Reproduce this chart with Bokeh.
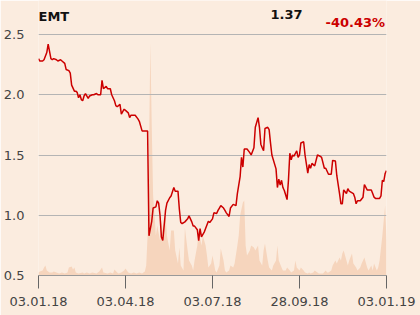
from bokeh.plotting import figure
from bokeh.models import Range1d, LinearAxis, FixedTicker, NumeralTickFormatter, Label
from bokeh.embed import file_html
from bokeh.resources import INLINE

# ---- data ----
price_day = [0, 1, 3, 4, 6, 7, 9, 10, 11, 13, 14, 16, 17, 19, 20, 22, 23, 24, 26, 27, 28, 29, 30, 31, 32, 33, 34, 36, 37, 39,
             40, 42, 43, 45, 46, 47, 49, 50, 52, 53, 55, 56, 57, 59, 60, 62, 63, 65, 66, 67, 69, 70, 72, 73, 75, 76, 78, 79,
             80, 82, 83, 85, 86, 87, 88, 89, 90, 92, 93, 95, 96, 98, 99, 101, 102, 103, 104, 106, 108, 109, 111, 112, 113,
             115, 116, 117, 118, 120, 121, 123, 124, 126, 127, 129, 130, 131, 132, 134, 135, 136, 138, 139, 141, 143, 144,
             146, 147, 148, 149, 151, 153, 154, 156, 157, 159, 160, 161, 162, 163, 164, 166, 167, 168, 169, 172, 173, 174,
             175, 176, 177, 178, 180, 181, 182, 183, 184, 185, 187, 188, 189, 190, 192, 193, 195, 196, 197, 198, 200, 202,
             204, 205, 207, 208, 210, 212, 213, 215, 216, 218, 219, 220, 221, 223, 224, 225, 228, 229, 230, 231, 233, 235,
             236, 238, 239, 241, 242, 243, 244, 246, 247, 248, 249, 250, 251, 252]
price = [2.30, 2.28, 2.28, 2.29, 2.35, 2.42, 2.30, 2.29, 2.30, 2.29, 2.28, 2.29, 2.28, 2.26, 2.21, 2.20, 2.18, 2.08, 2.03, 2.03,
         2.02, 1.975, 2.00, 1.96, 1.95, 1.99, 2.01, 1.97, 1.99, 2.00, 2.00, 2.01, 2.00, 2.00, 2.12, 2.05, 2.07, 2.05, 2.05,
         2.00, 1.95, 1.91, 1.90, 1.92, 1.84, 1.88, 1.87, 1.85, 1.81, 1.83, 1.83, 1.83, 1.80, 1.78, 1.70, 1.70, 1.70, 1.70,
         0.83, 0.95, 1.06, 1.07, 1.12, 1.10, 1.00, 0.82, 0.79, 1.04, 1.10, 1.145, 1.16, 1.23, 1.20, 1.20, 1.05, 0.94, 0.93,
         0.945, 0.97, 0.995, 0.945, 0.91, 0.91, 0.88, 0.79, 0.89, 0.82, 0.86, 0.89, 0.95, 0.94, 0.97, 1.02, 1.015, 1.04,
         1.06, 1.08, 1.06, 1.04, 1.02, 0.99, 1.06, 1.09, 1.08, 1.18, 1.32, 1.48, 1.40, 1.55, 1.55, 1.52, 1.50, 1.56, 1.73,
         1.81, 1.73, 1.59, 1.56, 1.535, 1.72, 1.73, 1.71, 1.60, 1.50, 1.385, 1.23, 1.30, 1.25, 1.29, 1.23, 1.205, 1.13,
         1.29, 1.515, 1.46, 1.50, 1.49, 1.535, 1.48, 1.50, 1.60, 1.61, 1.50, 1.35, 1.42, 1.39, 1.43, 1.41, 1.50, 1.49,
         1.48, 1.39, 1.39, 1.34, 1.34, 1.455, 1.45, 1.33, 1.18, 1.095, 1.095, 1.21, 1.18, 1.22, 1.20, 1.18, 1.15, 1.095,
         1.12, 1.12, 1.15, 1.255, 1.21, 1.21, 1.21, 1.18, 1.15, 1.14, 1.14, 1.14, 1.16, 1.29, 1.28, 1.345, 1.37]

vol_day = [0, 1, 3, 4, 5, 6, 8, 10, 11, 13, 15, 17, 19, 21, 22, 24, 25, 26, 27, 29, 32, 33, 35, 37, 39, 42, 44, 45, 46, 47,
           50, 52, 54, 55, 57, 58, 60, 62, 63, 65, 67, 69, 71, 73, 75, 77, 78, 79, 80, 81, 82, 83, 84, 85, 86, 88, 89, 90,
           92, 93, 95, 96, 98, 99, 101, 102, 103, 105, 106, 108, 109, 111, 112, 113, 115, 116, 118, 119, 121, 122, 123,
           125, 126, 128, 129, 131, 132, 134, 135, 136, 138, 139, 141, 142, 144, 145, 146, 148, 149, 150, 151, 153, 154,
           156, 157, 159, 160, 162, 163, 164, 166, 167, 169, 170, 172, 173, 174, 176, 177, 179, 180, 182, 183, 185, 186,
           187, 189, 190, 192, 193, 195, 196, 197, 199, 200, 202, 203, 205, 206, 208, 209, 210, 212, 213, 215, 216, 218,
           219, 220, 221, 223, 224, 225, 227, 228, 230, 231, 233, 234, 235, 236, 238, 239, 241, 242, 243, 245, 246, 247,
           249, 250, 251, 252]
volume = [3, 4, 5, 8, 10, 5, 3, 3, 4, 3, 2, 3, 2, 3, 8, 9, 6, 8, 3, 2, 3, 2, 3, 2, 3, 2, 4, 6, 8, 3,
          2, 3, 2, 6, 3, 2, 3, 5, 7, 3, 2, 3, 2, 3, 2, 4, 10, 40, 120, 233, 150, 80, 60, 40, 50, 35, 55, 45,
          60, 40, 25, 45, 45, 25, 12, 28, 10, 5, 48, 25, 15, 10, 5, 15, 30, 45, 30, 40, 30, 20, 8,
          12, 20, 5, 3, 10, 27, 15, 5, 3, 5, 10, 8, 12, 30, 40, 60, 73, 75, 30, 20, 25, 30,
          28, 25, 30, 15, 10, 25, 32, 15, 8, 5, 10, 15, 30, 15, 8, 5, 5, 8, 5, 3, 5, 15,
          8, 5, 8, 5, 3, 2, 3, 2, 3, 5, 3, 2, 2, 2, 5, 3, 3, 5, 10, 15, 12, 18,
          15, 22, 25, 15, 10, 15, 22, 12, 8, 5, 8, 12, 15, 18, 8, 5, 10, 5, 12, 5, 8, 15,
          40, 55, 70, 35]

tick_days = [0, 63, 126, 189, 252]
tick_labels = ["03.01.18", "03.04.18", "03.07.18", "28.09.18", "03.01.19"]
y_ticks = [0.5, 1.0, 1.5, 2.0, 2.5]

name = "EMT"
last_price = "1.37"
change = "-40.43%"

BG = "#fbecdf"
RED = "#cc0000"
FONT = "DejaVu Sans"

# frame spans from the very top of the canvas down to the 0.5 baseline;
# 0.5 -> 2.5 covers 241 px, so the top of the frame sits at 2.5 + 34/120.5
Y_TOP = 2.5 + 34 / 120.5

p = figure(width=420, height=315, output_backend="svg", toolbar_location=None,
           x_range=Range1d(0, 252), y_range=Range1d(0.5, Y_TOP),
           min_border_left=34, min_border_right=34, min_border_top=0, min_border_bottom=40,
           background_fill_color=BG, border_fill_color=BG, outline_line_color=None,
           x_axis_location=None, y_axis_location=None)

p.extra_y_ranges = {"vol": Range1d(0, 275)}

p.varea(x=vol_day, y1=0, y2=volume, y_range_name="vol", fill_color="#f6d5bd", fill_alpha=1.0, level="underlay")
p.line(price_day, price, line_color=RED, line_width=1.5)

yaxis = LinearAxis(ticker=FixedTicker(ticks=y_ticks), formatter=NumeralTickFormatter(format="0.0"),
                   axis_line_color=None, major_tick_line_color=None, minor_tick_line_color=None,
                   major_label_standoff=8, major_label_text_font=FONT, major_label_text_font_size="13px",
                   major_label_text_color="#444444")
p.add_layout(yaxis, "left")

xaxis = LinearAxis(ticker=FixedTicker(ticks=tick_days),
                   major_label_overrides={d: l for d, l in zip(tick_days, tick_labels)},
                   axis_line_color="#999999", major_tick_line_color="#666666", major_tick_out=13, major_tick_in=0,
                   minor_tick_line_color=None, major_label_standoff=8,
                   major_label_text_font=FONT, major_label_text_font_size="13px",
                   major_label_text_color="#444444")
p.add_layout(xaxis, "below")

p.xgrid.grid_line_color = None
p.ygrid.ticker = FixedTicker(ticks=y_ticks)
p.ygrid.grid_line_color = "#b4b4b4"
p.ygrid.level = "underlay"

p.add_layout(Label(x=0, y=259, x_units="screen", y_units="screen", text=name, text_font=FONT,
                   text_font_style="bold", text_font_size="13px", text_color="#111111", text_baseline="alphabetic"))
p.add_layout(Label(x=232, y=261, x_units="screen", y_units="screen", text=last_price, text_font=FONT,
                   text_font_style="bold", text_font_size="13px", text_color="#111111", text_baseline="alphabetic"))
p.add_layout(Label(x=287, y=253, x_units="screen", y_units="screen", text=change, text_font=FONT,
                   text_font_style="bold", text_font_size="13px", text_color=RED, text_baseline="alphabetic"))

open("out.html", "w").write(file_html(p, INLINE))
